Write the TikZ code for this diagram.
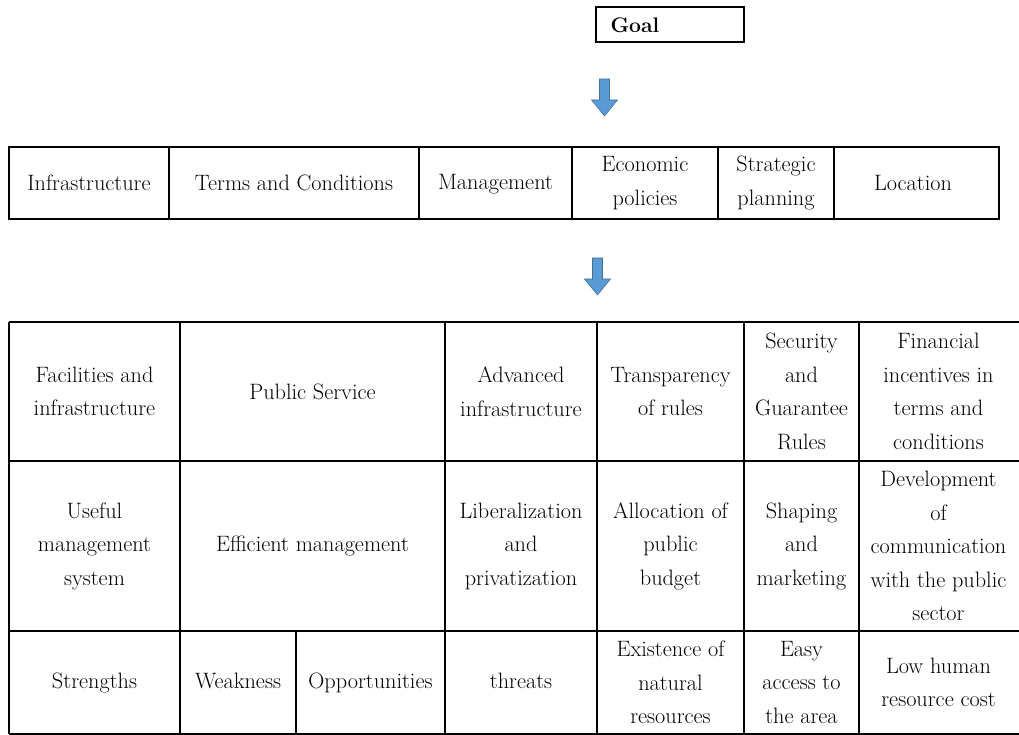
\documentclass[tikz,border=0pt]{standalone}
\definecolor{arrowblue}{RGB}{91,155,213}
\definecolor{arrowedge}{RGB}{65,113,156}
\begin{document}
\begin{tikzpicture}[x = 0.3mm, y = -0.3mm, line width = 1pt,
        cell/.style = {align = center, inner sep = 0pt, font = \fontsize{19}{28.6}\selectfont},
        blockarrow/.style = {fill = arrowblue, draw = arrowedge, line width = 0.5pt}]
    \useasboundingbox (0,0) rectangle (1019,735);
    % goal box
    \draw (596,7) rectangle (744,42);
    \node[cell, anchor = west, font = \fontsize{18}{28.6}\selectfont\bfseries] (goal) at (610,25) {Goal};
    % block arrows
    \foreach \cx/\t in {604.5/79, 597.5/258}
        \draw[blockarrow] (\cx-5,\t) -- (\cx+5,\t) -- (\cx+5,\t+21) -- (\cx+13,\t+21)
            -- (\cx,\t+37) -- (\cx-13,\t+21) -- (\cx-5,\t+21) -- cycle;
    % middle table
    \draw (9,147) rectangle (999,219);
    \foreach \x in {169, 419, 572, 718, 834}
        \draw (\x,147) -- (\x,219);
    \begin{scope}[every node/.append style = {cell}]
        \node (infra) at (89,183) {Infrastructure};
        \node (terms) at (294,183) {Terms and Conditions};
        \node (mgmt) at (495.5,184) {Management};
        \node (econ) at (645,183) {Economic\\policies};
        \node (strat) at (776,183) {Strategic\\planning};
        \node (loc) at (913,183) {Location};
    \end{scope}
    % bottom table
    \foreach \y in {322, 461, 631, 734}
        \draw (9,\y) -- (1021,\y);
    \foreach \x in {9, 180, 445, 597, 744, 859, 1021}
        \draw (\x,322) -- (\x,734);
    \draw (296,631) -- (296,734);
    \begin{scope}[every node/.append style = {cell}]
        \node (facil) at (94.5,391.5) {Facilities and\\infrastructure};
        \node (pubserv) at (312.5,391.5) {Public Service};
        \node (advinfra) at (521,391.5) {Advanced\\infrastructure};
        \node (transp) at (670.5,391.5) {Transparency\\of rules};
        \node (secur) at (801.5,391.5) {Security\\and\\Guarantee\\Rules};
        \node (fininc) at (938.5,391.5) {Financial\\incentives in\\terms and\\conditions};
        \node (usefulmgmt) at (94.5,546) {Useful\\management\\system};
        \node (effmgmt) at (312.5,546) {Efficient management};
        \node (liberal) at (521,546) {Liberalization\\and\\privatization};
        \node (alloc) at (670.5,546) {Allocation of\\public\\budget};
        \node (shaping) at (801.5,546) {Shaping\\and\\marketing};
        \node (devcomm) at (938.5,546) {Development\\of\\communication\\with the public\\sector};
        \node (strengths) at (94.5,682.5) {Strengths};
        \node (weakness) at (238,681) {Weakness};
        \node (opport) at (370.5,682.5) {Opportunities};
        \node (threats) at (521,681) {threats};
        \node (natres) at (670.5,682.5) {Existence of\\natural\\resources};
        \node (access) at (801.5,682.5) {Easy\\access to\\the area};
        \node (lowcost) at (938.5,682.5) {Low human\\resource cost};
    \end{scope}
\end{tikzpicture}
\end{document}
